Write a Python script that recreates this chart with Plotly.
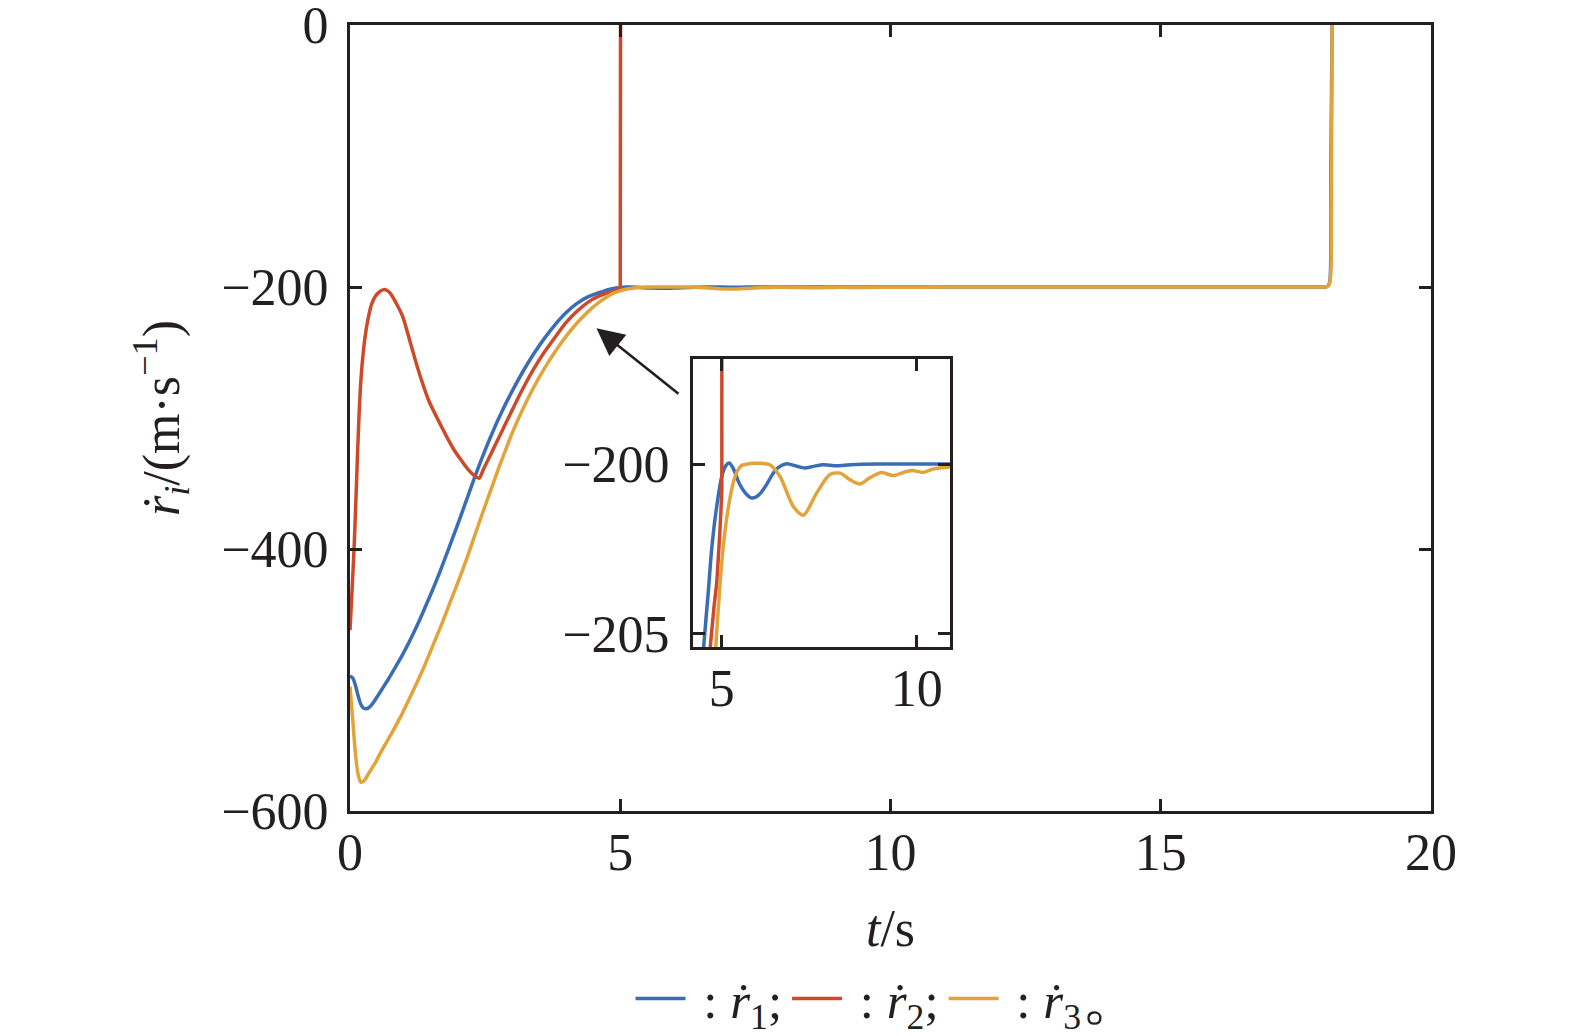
import plotly.graph_objects as go

# ---------------- data ----------------
t_r1 = [0.00, 0.05, 0.10, 0.15, 0.20, 0.25, 0.30, 0.35, 0.40, 0.50, 0.60, 0.70, 0.80, 0.90,
        1.00, 1.10, 1.20, 1.30, 1.40, 1.50, 1.60, 1.70, 1.80, 1.90, 2.00, 2.10, 2.20, 2.30,
        2.40, 2.50, 2.60, 2.70, 2.80, 2.90, 3.00, 3.20, 3.40, 3.60, 3.80, 4.00, 4.20, 4.40,
        4.54, 4.65, 4.74, 4.85, 5.00, 5.10, 5.19, 5.30, 5.44, 5.60, 5.75, 5.87, 6.00, 6.15,
        6.30, 6.45, 6.66, 6.90, 7.13, 7.35, 7.60, 7.94, 8.30, 9.00, 12.0, 15.0, 17.95, 18.05,
        18.10, 18.13, 18.15, 18.17]
r1 = [-497.0, -498.5, -504.0, -512.0, -518.5, -521.5, -522.0, -521.0, -519.0, -513.0, -506.5,
      -500.0, -493.0, -486.0, -478.5, -470.5, -462.0, -453.0, -443.5, -434.0, -424.0, -413.5,
      -402.5, -391.5, -380.5, -369.0, -357.5, -346.0, -335.0, -324.5, -314.5, -305.0, -296.0,
      -287.5, -279.5, -264.5, -251.0, -239.0, -228.5, -219.5, -212.5, -207.5, -205.3, -203.8,
      -202.5, -201.4, -200.36, -200.05, -199.97, -200.15, -200.56, -200.85, -201.0, -200.98,
      -200.85, -200.6, -200.3, -200.1, -199.99, -200.06, -200.12, -200.07, -200.02, -200.05,
      -200.02, -200.0, -200.0, -200.0, -200.0, -200.0, -199.0, -195.0, -100.0, 0.0]

t_r2 = [0.00, 0.04, 0.08, 0.12, 0.16, 0.20, 0.25, 0.30, 0.35, 0.40, 0.47, 0.55, 0.62, 0.68,
        0.75, 0.85, 0.97, 1.10, 1.21, 1.33, 1.46, 1.60, 1.71, 1.83, 1.95, 2.08, 2.20, 2.30,
        2.39, 2.45, 2.50, 2.60, 2.70, 2.80, 2.90, 3.00, 3.20, 3.40, 3.60, 3.80, 4.00, 4.20,
        4.40, 4.60, 4.71, 4.80, 4.87, 4.95, 5.00, 5.00, 5.005]
r2 = [-462.0, -430.0, -395.0, -350.0, -305.0, -272.0, -248.0, -232.0, -221.0, -213.0, -207.0,
      -203.5, -202.0, -202.5, -205.0, -212.0, -222.0, -240.0, -256.0, -272.0, -287.0, -299.0,
      -308.0, -317.5, -326.0, -333.5, -340.0, -344.0, -346.0, -341.0, -336.5, -328.0, -319.5,
      -311.0, -302.5, -294.0, -277.5, -262.5, -249.5, -238.0, -227.0, -218.5, -211.7, -207.0,
      -205.3, -204.2, -203.5, -202.0, -200.8, -200.8, 0.0]

t_r3 = [0.00, 0.05, 0.10, 0.15, 0.20, 0.26, 0.35, 0.47, 0.60, 0.78, 0.95, 1.09, 1.25, 1.40,
        1.55, 1.71, 1.85, 2.02, 2.18, 2.33, 2.50, 2.64, 2.78, 2.92, 3.00, 3.20, 3.40, 3.60,
        3.80, 4.00, 4.20, 4.40, 4.60, 4.75, 4.85, 4.95, 5.03, 5.15, 5.29, 5.40, 5.50, 5.58,
        5.80, 6.00, 6.23, 6.49, 6.83, 7.09, 7.43, 7.77, 8.03, 8.28, 8.54, 8.79, 9.09, 9.39,
        9.73, 9.90, 10.16, 10.42, 10.85, 11.5, 12.5, 14.0, 17.95, 18.05, 18.10, 18.13, 18.15,
        18.16, 18.17]
r3 = [-505.0, -530.0, -556.0, -572.0, -578.0, -577.0, -571.0, -563.0, -553.0, -540.0, -527.0,
      -515.0, -501.0, -487.0, -472.0, -456.0, -441.0, -423.0, -405.0, -387.0, -367.0, -351.0,
      -335.0, -320.0, -311.5, -293.0, -276.5, -262.0, -249.0, -237.5, -227.5, -219.0, -212.0,
      -207.6, -205.3, -203.6, -202.5, -201.4, -200.56, -200.2, -200.05, -200.02, -199.98,
      -199.98, -200.02, -200.36, -201.25, -201.51, -200.86, -200.31, -200.27, -200.46, -200.59,
      -200.41, -200.25, -200.34, -200.22, -200.19, -200.25, -200.15, -200.09, -200.06, -200.03,
      -200.0, -200.0, -200.0, -199.0, -196.0, -185.0, -100.0, 0.0]

names = [" : <i>ṙ</i><sub>1</sub>;", " : <i>ṙ</i><sub>2</sub>;",
         " : <i>ṙ</i><sub>3</sub><span style=\"font-size:64px\">。</span>"]
colors = ["#3a6db5", "#cc4a2a", "#e2a43a"]

main_xticks = [0, 5, 10, 15, 20]
main_yticks = [0, -200, -400, -600]
inset_xticks = [5, 10]
inset_yticks = [-200, -205]

# ---------------- figure ----------------
FONT = "Liberation Serif, Times New Roman, serif"
AX = "#231f20"
series = [(t_r1, r1), (t_r2, r2), (t_r3, r3)]
inset_shapes = ["spline", "linear", "spline"]
LW = 3.5

fig = go.Figure()
for (tt, vv), nm, col in zip(series, names, colors):
    fig.add_trace(go.Scatter(x=tt, y=vv, mode="lines", name=nm,
                             line=dict(color=col, width=LW, shape="spline", smoothing=0.8,
                                       simplify=False),
                             xaxis="x", yaxis="y"))
for (tt, vv), nm, col, shp in zip(series, names, colors, inset_shapes):
    fig.add_trace(go.Scatter(x=tt, y=vv, mode="lines", name=nm, showlegend=False,
                             line=dict(color=col, width=LW, shape=shp, smoothing=0.8,
                                       simplify=False),
                             xaxis="x2", yaxis="y2"))

axis_common = dict(showgrid=False, zeroline=False, showline=True, linewidth=3, linecolor=AX,
                   ticks="inside", ticklen=12, tickwidth=3, tickcolor=AX, mirror="ticks",
                   automargin=False, ticklabeloverflow="allow",
                   tickfont=dict(family=FONT, size=52, color=AX))

fig.update_layout(
    width=1575, height=1036,
    margin=dict(l=342, r=152, t=17, b=233, autoexpand=False),
    paper_bgcolor="white", plot_bgcolor="white",
    font=dict(family=FONT, size=50, color=AX),
    xaxis=dict(range=[0, 20], tickvals=main_xticks, domain=[0, 1], anchor="y",
               title=dict(text="<i>t</i>/s", font=dict(family=FONT, size=52, color=AX), standoff=30),
               ticklabelstandoff=-6, **axis_common),
    yaxis=dict(range=[-600, 0], tickvals=main_yticks, domain=[0, 1], anchor="x",
               title=dict(text="<i>ṙ</i><sub><i>i</i></sub>/(m·s<sup>−1</sup>)",
                          font=dict(family=FONT, size=52, color=AX), standoff=26),
               ticklabelstandoff=8, **axis_common),
    xaxis2=dict(range=[4.26, 10.85], tickvals=inset_xticks, domain=[0.3173, 0.5550], anchor="y2",
                ticklabelstandoff=-6, **axis_common),
    yaxis2=dict(range=[-205.4, -196.9], tickvals=inset_yticks, domain=[0.2087, 0.5751], anchor="x2",
                ticklabelstandoff=10, **axis_common),
    legend=dict(orientation="h", x=0.50, xanchor="center", y=-0.239, yanchor="middle",
                font=dict(family=FONT, size=51, color=AX), bgcolor="rgba(0,0,0,0)",
                itemwidth=50),
    showlegend=True,
)

fig.add_annotation(x=4.56, y=-231.5, ax=6.105, ay=-282.4, xref="x", yref="y",
                   axref="x", ayref="y", text="", showarrow=True,
                   arrowhead=2, arrowsize=2.1, arrowwidth=2.6, arrowcolor=AX)

fig.write_html("out.html")
